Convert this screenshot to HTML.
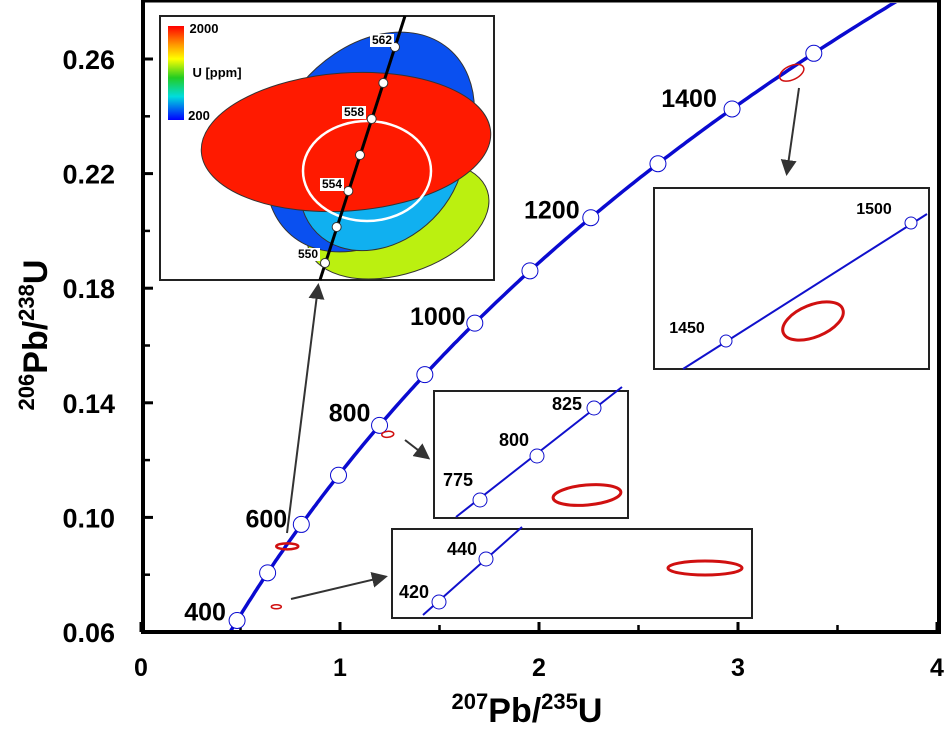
<!DOCTYPE html>
<html><head><meta charset="utf-8"><style>
html,body{margin:0;padding:0;background:#fff;}
svg{display:block;font-family:"Liberation Sans",Arial,sans-serif;}
</style></head><body>
<svg id="chart" width="945" height="731" viewBox="0 0 945 731" xmlns="http://www.w3.org/2000/svg">
<defs>
<linearGradient id="ucb" x1="0" y1="0" x2="0" y2="1">
<stop offset="0" stop-color="#ff0000"/><stop offset="0.2" stop-color="#ff9900"/><stop offset="0.35" stop-color="#ffff00"/><stop offset="0.55" stop-color="#22cc22"/><stop offset="0.75" stop-color="#00dddd"/><stop offset="1" stop-color="#0000ff"/>
</linearGradient>
<clipPath id="plotclip"><rect x="143" y="3" width="794" height="628"/></clipPath>
<marker id="ah" markerWidth="8" markerHeight="8" refX="6" refY="4" orient="auto" markerUnits="strokeWidth"><path d="M0,0 L8,4 L0,8 Z" fill="#333"/></marker>
</defs>
<g id="axes"></g>
<g id="curve" clip-path="url(#plotclip)"></g>
<g id="insets"></g>
<g id="frame"></g>
</svg>
<script>
// data
const xTicks = [0, 1, 2, 3, 4];
const xMinor = [0.5, 1.5, 2.5, 3.5];
const yTicks = [0.06, 0.10, 0.14, 0.18, 0.22, 0.26];
const yMinor = [0.08, 0.12, 0.16, 0.20, 0.24];
const ageMarks = [400, 500, 600, 700, 800, 900, 1000, 1100, 1200, 1300, 1400, 1500];
const ageLabels = [400, 600, 800, 1000, 1200, 1400];
const dataEllX = [0.68, 0.735, 1.24, 3.27];
const dataEllY = [0.0688, 0.0899, 0.1290, 0.2552];

const NS = "http://www.w3.org/2000/svg";
const svg = document.getElementById('chart');
const X0 = 141, XS = 199, Y0 = 632, YS = 2865;
const sx = v => X0 + v * XS;
const sy = v => Y0 - (v - 0.06) * YS;
const conX = t => Math.exp(9.8485e-4 * t) - 1;
const conY = t => Math.exp(1.55125e-4 * t) - 1;
function mk(tag, attrs, parent, text) {
  const e = document.createElementNS(NS, tag);
  for (const k in attrs) e.setAttribute(k, attrs[k]);
  if (text !== undefined) e.textContent = text;
  parent.appendChild(e);
  return e;
}
const axes = document.getElementById('axes');
xTicks.forEach(v => {
  const l = mk('line', {x1: sx(v), x2: sx(v), y1: Y0, y2: Y0 - 10, stroke: '#000', 'stroke-width': 3}, axes);
  
  
  const t = mk('text', {x: sx(v), y: 676, 'text-anchor': 'middle', 'font-size': 25, 'font-weight': 'bold'}, axes, String(v));
  
  
});
xMinor.forEach(v => {
  const l = mk('line', {x1: sx(v), x2: sx(v), y1: Y0, y2: Y0 - 7, stroke: '#000', 'stroke-width': 2.5}, axes);
  
  
});
yTicks.forEach(v => {
  const l = mk('line', {x1: 143, x2: 153, y1: sy(v), y2: sy(v), stroke: '#000', 'stroke-width': 3}, axes);
  
  
  const t = mk('text', {x: 115, y: sy(v) + 10, 'text-anchor': 'end', 'font-size': 27, 'font-weight': 'bold'}, axes, v.toFixed(2));
  
  
});
yMinor.forEach(v => {
  const l = mk('line', {x1: 143, x2: 150, y1: sy(v), y2: sy(v), stroke: '#000', 'stroke-width': 2.5}, axes);
  
  
});
const xt = mk('text', {x: 527, y: 722, 'text-anchor': 'middle', 'font-size': 34, 'font-weight': 'bold'}, axes);
xt.innerHTML = '<tspan font-size="22" dy="-13">207</tspan><tspan dy="13">Pb/</tspan><tspan font-size="22" dy="-13">235</tspan><tspan dy="13">U</tspan>';


const yt = mk('text', {x: 0, y: 0, 'text-anchor': 'middle', 'font-size': 34, 'font-weight': 'bold', transform: 'translate(47,335) rotate(-90)'}, axes);
yt.innerHTML = '<tspan font-size="22" dy="-13">206</tspan><tspan dy="13">Pb/</tspan><tspan font-size="22" dy="-13">238</tspan><tspan dy="13">U</tspan>';



const cg = document.getElementById('curve');
let d = '';
for (let t = 350; t <= 1650; t += 5) d += (d ? 'L' : 'M') + sx(conX(t)).toFixed(1) + ',' + sy(conY(t)).toFixed(1);
const cp = mk('path', {d: d, fill: 'none', stroke: '#0a0ad0', 'stroke-width': 3.5}, cg);


ageMarks.forEach(a => {
  const c = mk('circle', {cx: sx(conX(a)), cy: sy(conY(a)), r: 8, fill: '#fff', stroke: '#0a0ad0', 'stroke-width': 1}, cg);
  
  
});
const labOff = {400: [-32, -9], 600: [-35, -6], 800: [-30, -13], 1000: [-37, -7], 1200: [-39, -8], 1400: [-43, -11]};
ageLabels.forEach(a => {
  const o = labOff[a];
  const t = mk('text', {x: sx(conX(a)) + o[0], y: sy(conY(a)) + o[1] + 9, 'text-anchor': 'middle', 'font-size': 25, 'font-weight': 'bold'}, svg, String(a));
  
  
});
const eR = [[5, 2, 0], [11, 3, 0], [6, 3, -5], [13, 7, -25]];
dataEllX.forEach((v, i) => {
  const cx = sx(v), cy = sy(dataEllY[i]);
  const e = mk('ellipse', {cx: cx, cy: cy, rx: eR[i][0], ry: eR[i][1], fill: 'none', stroke: '#d01010', 'stroke-width': i === 1 ? 2.5 : 1.5, transform: 'rotate(' + eR[i][2] + ' ' + cx + ' ' + cy + ')'}, svg);
  
  
});

const ig = document.getElementById('insets');
const arrows = [[291, 599, 384, 577], [405, 440, 427, 457], [287, 533, 318, 287], [799, 88, 787, 172]];
arrows.forEach(a => {
  const l = mk('line', {x1: a[0], y1: a[1], x2: a[2], y2: a[3], stroke: '#333', 'stroke-width': 2, 'marker-end': 'url(#ah)'}, ig);
  
  
});
function box(x, y, w, h, name) {
  const r = mk('rect', {x: x, y: y, width: w, height: h, fill: '#fff', stroke: '#222', 'stroke-width': 2}, ig);
  
  
}
function txt(x, y, s, size, name) {
  const t = mk('text', {x: x, y: y, 'text-anchor': 'middle', 'font-size': size, 'font-weight': 'bold'}, ig, s);
  
  
}
function pt(x, y, r, stroke, name) {
  const c = mk('circle', {cx: x, cy: y, r: r, fill: '#fff', stroke: stroke, 'stroke-width': 1}, ig);
  
  
}
function ln(x1, y1, x2, y2, col, w, name) {
  const l = mk('line', {x1: x1, y1: y1, x2: x2, y2: y2, stroke: col, 'stroke-width': w}, ig);
  
  
}
function ell(cx, cy, rx, ry, rot, fill, stroke, sw, name) {
  const e = mk('ellipse', {cx: cx, cy: cy, rx: rx, ry: ry, fill: fill, stroke: stroke, 'stroke-width': sw, transform: 'rotate(' + rot + ' ' + cx + ' ' + cy + ')'}, ig);
  
  
}
box(392, 529, 360, 89, 'inset-420-440');
ln(423, 615, 522, 527, '#1010cc', 2, 'inset-concordia');
pt(439, 602, 7, '#1010cc', 'inset-marker-420');
pt(486, 559, 7, '#1010cc', 'inset-marker-440');
txt(414, 598, '420', 18, 'inset-label-420');
txt(462, 555, '440', 18, 'inset-label-440');
ell(705, 568, 37, 7, 0, 'none', '#d01010', 3, 'inset-ellipse');
box(434, 391, 194, 127, 'inset-775-825');
ln(456, 517, 622, 387, '#1010cc', 2, 'inset-concordia');
pt(480, 500, 7, '#1010cc', 'inset-marker-775');
pt(537, 456, 7, '#1010cc', 'inset-marker-800');
pt(594, 408, 7, '#1010cc', 'inset-marker-825');
txt(458, 486, '775', 18, 'inset-label-775');
txt(514, 446, '800', 18, 'inset-label-800');
txt(567, 410, '825', 18, 'inset-label-825');
ell(587, 495, 34, 10, -5, 'none', '#d01010', 3, 'inset-ellipse');
box(654, 188, 275, 181, 'inset-1450-1500');
ln(683, 369, 927, 214, '#1010cc', 2, 'inset-concordia');
pt(726, 341, 6, '#1010cc', 'inset-marker-1450');
pt(911, 223, 6, '#1010cc', 'inset-marker-1500');
txt(687, 333, '1450', 16, 'inset-label-1450');
txt(874, 214, '1500', 16, 'inset-label-1500');
ell(813, 321, 32, 16, -22, 'none', '#d01010', 3, 'inset-ellipse');
box(160, 16, 334, 264, 'inset-550-562');
ell(398, 220, 94, 54, -18, '#bbf010', '#333', 1, 'inset-ellipse-low-u');
ell(370, 142, 122, 90, -50, '#0a50f0', '#333', 1, 'inset-ellipse-darkblue');
ell(382, 168, 92, 72, -45, '#10b0f0', '#333', 1, 'inset-ellipse-lightblue');
ell(346, 142, 145, 69, -4, '#ff1a00', '#333', 1, 'inset-ellipse-high-u');
ell(367, 171, 64, 50, 0, 'none', '#fff', 2.5, 'inset-mean-ellipse');
ln(320, 280, 405, 16, '#000', 3, 'inset-concordia');
const inAges = [550, 552, 554, 556, 558, 560, 562];
inAges.forEach((a, i) => {
  const f = i / 6;
  pt(325 + 70 * f, 263 - 216 * f, 4.5, '#333', 'inset-marker-' + a);
});
const lb = [[550, 308, 258], [554, 332, 188], [558, 354, 116], [562, 382, 44]];
lb.forEach(l => {
  const r = mk('rect', {x: l[1] - 12, y: l[2] - 10, width: 24, height: 13, fill: '#fff'}, ig);
  
  
  txt(l[1], l[2], String(l[0]), 12, 'inset-label-' + l[0]);
});
const cb = mk('rect', {x: 168, y: 26, width: 16, height: 94, fill: 'url(#ucb)'}, ig);


txt(204, 33, '2000', 13, 'colorbar-max-label');
txt(217, 77, 'U [ppm]', 13, 'colorbar-title');
txt(199, 120, '200', 13, 'colorbar-min-label');

const fr = document.getElementById('frame');
const f = mk('path', {d: 'M143,0 L143,632 L939,632 L939,0', fill: 'none', stroke: '#000', 'stroke-width': 4}, fr);


const tp = mk('line', {x1: 143, y1: 1, x2: 939, y2: 1, stroke: '#000', 'stroke-width': 3}, fr);


</script>
</body></html>
